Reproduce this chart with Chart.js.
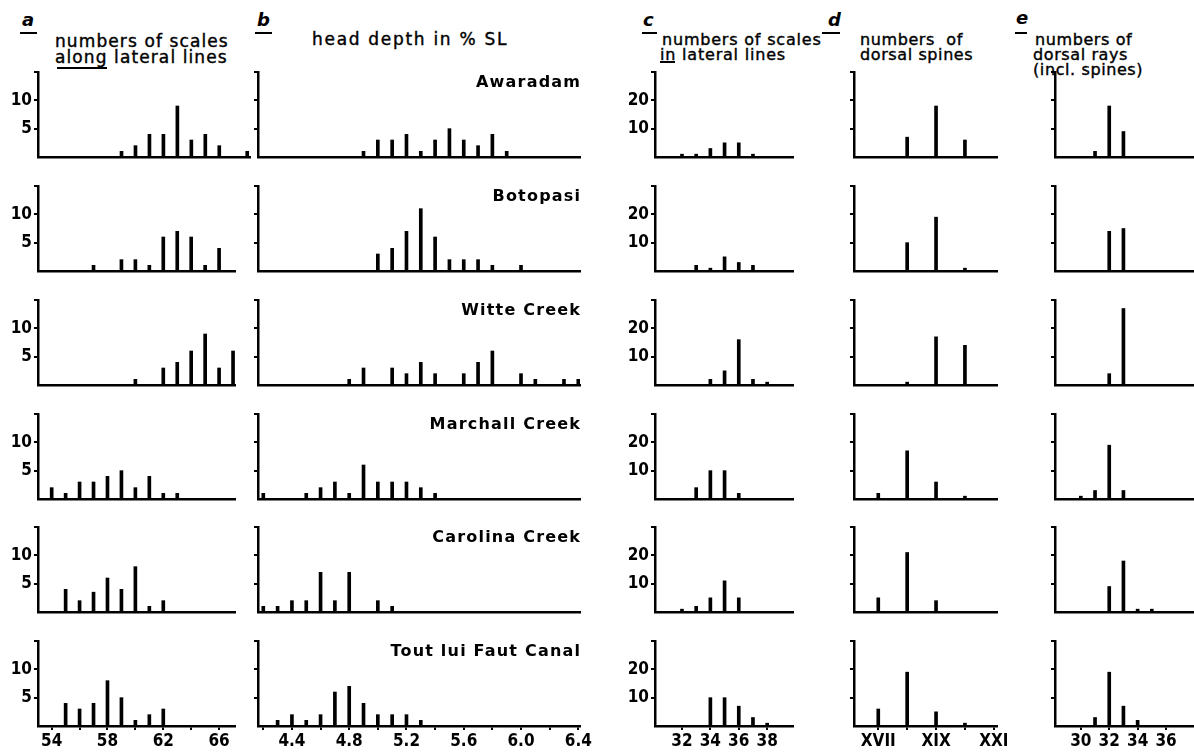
<!DOCTYPE html>
<html>
<head>
<meta charset="utf-8">
<script src="https://cdn.jsdelivr.net/npm/chart.js@4.4.1/dist/chart.umd.min.js"></script>
<style>
  body { margin: 0; background: #fff; width: 1194px; height: 752px; overflow: hidden; position: relative; font-family: 'DejaVu Sans', sans-serif; color: #000; }
  canvas { position: absolute; }
  .t { position: absolute; white-space: nowrap; font-size: 16px; line-height: 16px; -webkit-text-stroke: 0.4px #000; }
  .big { font-size: 17px; line-height: 17px; }
  .tag { position: absolute; font-size: 18px; line-height: 18px; font-weight: bold; font-style: italic; }
  .ul { position: absolute; height: 2px; background: #000; }
  .name { position: absolute; white-space: nowrap; font-size: 16px; line-height: 16px; font-weight: bold; letter-spacing: 1.2px; text-align: right; }
</style>
</head>
<body>

<!-- column headings -->
<div class="tag" style="left:22px;top:11px">a</div><div class="ul" style="left:20px;top:32px;width:17px"></div>
<div class="t big" style="left:55px;top:33px;letter-spacing:1.1px">numbers of scales</div>
<div class="t big" style="left:55px;top:49px;letter-spacing:1.1px">along lateral lines</div>
<div class="ul" style="left:57px;top:67px;width:50px"></div>

<div class="tag" style="left:257px;top:11px">b</div><div class="ul" style="left:255px;top:32px;width:17px"></div>
<div class="t big" style="left:312px;top:31px;letter-spacing:1.7px">head depth in % SL</div>

<div class="tag" style="left:643px;top:11px">c</div><div class="ul" style="left:642px;top:32px;width:15px"></div>
<div class="t" style="left:662px;top:32px;letter-spacing:0.8px">numbers of scales</div>
<div class="t" style="left:660px;top:47px;letter-spacing:0.8px">in lateral lines</div>
<div class="ul" style="left:660px;top:61px;width:15px"></div>

<div class="tag" style="left:828px;top:11px">d</div><div class="ul" style="left:822px;top:32px;width:18px"></div>
<div class="t" style="left:860px;top:32px;letter-spacing:0.6px">numbers&nbsp;&nbsp;of</div>
<div class="t" style="left:860px;top:47px;letter-spacing:0.6px">dorsal spines</div>

<div class="tag" style="left:1016px;top:9px">e</div><div class="ul" style="left:1015px;top:32px;width:12px"></div>
<div class="t" style="left:1035px;top:32px;letter-spacing:0.6px">numbers of</div>
<div class="t" style="left:1033px;top:47px;letter-spacing:0.6px">dorsal rays</div>
<div class="t" style="left:1033px;top:62px;letter-spacing:0.6px">(incl. spines)</div>

<script>
Chart.defaults.font.family = "'DejaVu Sans', sans-serif";
Chart.defaults.color = '#000';

const stations = ['Awaradam', 'Botopasi', 'Witte Creek', 'Marchall Creek', 'Carolina Creek', 'Tout lui Faut Canal'];

// a: numbers of scales along lateral lines
const scalesAlongCats = [54, 55, 56, 57, 58, 59, 60, 61, 62, 63, 64, 65, 66, 67, 68];
const scalesAlongCounts = [
  [0, 0, 0, 0, 0, 1, 2, 4, 4, 9, 3, 4, 2, 0, 1],
  [0, 0, 0, 1, 0, 2, 2, 1, 6, 7, 6, 1, 4, 0, 0],
  [0, 0, 0, 0, 0, 0, 1, 0, 3, 4, 6, 9, 3, 6, 0],
  [2, 1, 3, 3, 4, 5, 2, 4, 1, 1, 0, 0, 0, 0, 0],
  [0, 4, 2, 3.5, 6, 4, 8, 1, 2, 0, 0, 0, 0, 0, 0],
  [0, 4, 3, 4, 8, 5, 1, 2, 3, 0, 0, 0, 0, 0, 0],
];
const scalesAlongTicks = [54, 56, 58, 60, 62, 64, 66];
const scalesAlongLabels = [54, 58, 62, 66];

// b: head depth in % SL
const headDepthCats = [4.2, 4.3, 4.4, 4.5, 4.6, 4.7, 4.8, 4.9, 5.0, 5.1, 5.2, 5.3, 5.4, 5.5, 5.6, 5.7, 5.8, 5.9, 6.0, 6.1, 6.2, 6.3, 6.4];
const headDepthCounts = [
  [0, 0, 0, 0, 0, 0, 0, 1, 3, 3, 4, 1, 3, 5, 3, 2, 4, 1, 0, 0, 0, 0, 0],
  [0, 0, 0, 0, 0, 0, 0, 0, 3, 4, 7, 11, 6, 2, 2, 2, 1, 0, 1, 0, 0, 0, 0],
  [0, 0, 0, 0, 0, 0, 1, 3, 0, 3, 2, 4, 2, 0, 2, 4, 6, 0, 2, 1, 0, 1, 1],
  [1, 0, 0, 1, 2, 3, 1, 6, 3, 3, 3, 2, 1, 0, 0, 0, 0, 0, 0, 0, 0, 0, 0],
  [1, 1, 2, 2, 7, 2, 7, 0, 2, 1, 0, 0, 0, 0, 0, 0, 0, 0, 0, 0, 0, 0, 0],
  [0, 1, 2, 1, 2, 6, 7, 4, 2, 2, 2, 1, 0, 0, 0, 0, 0, 0, 0, 0, 0, 0, 0],
];
const headDepthTicks = [4.2, 4.4, 4.6, 4.8, 5.0, 5.2, 5.4, 5.6, 5.8, 6.0, 6.2, 6.4];
const headDepthLabels = [4.4, 4.8, 5.2, 5.6, 6.0, 6.4];

// c: numbers of scales in lateral lines
const scalesInCats = [32, 33, 34, 35, 36, 37, 38];
const scalesInCounts = [
  [1, 1, 3, 5, 5, 1, 0],
  [0, 2, 1, 5, 3, 2, 0],
  [0, 0, 2, 5, 16, 2, 1],
  [0, 4, 10, 10, 2, 0, 0],
  [1, 2, 5, 11, 5, 0, 0],
  [0, 0, 10, 10, 7, 3, 1],
];
const scalesInTicks = [32, 34, 36, 38];
const scalesInLabels = [32, 34, 36, 38];

// d: numbers of dorsal spines
const dorsalSpineCats = [17, 18, 19, 20];
const dorsalSpineCounts = [
  [0, 7, 18, 6],
  [0, 10, 19, 1],
  [0, 1, 17, 14],
  [2, 17, 6, 1],
  [5, 21, 4, 0],
  [6, 19, 5, 1],
];
const dorsalSpineTicks = [17, 18, 19, 20, 21];
const romanLabels = { 17: 'XVII', 19: 'XIX', 21: 'XXI' };

// e: numbers of dorsal rays (incl. spines)
const dorsalRayCats = [30, 31, 32, 33, 34, 35];
const dorsalRayCounts = [
  [0, 2, 18, 9, 0, 0],
  [0, 0, 14, 15, 0, 0],
  [0, 0, 4, 27, 0, 0],
  [1, 3, 19, 3, 0, 0],
  [0, 0, 9, 18, 1, 1],
  [0, 3, 19, 7, 2, 0],
];
const dorsalRayTicks = [30, 32, 34, 36];
const dorsalRayLabels = [30, 32, 34, 36];

// y axes
const smallCountTicks = [5, 10, 15];
const smallCountLabels = [5, 10];
const largeCountTicks = [10, 20, 30];
const largeCountLabels = [10, 20];

// layout of the grid of panels
const rowBase = [157, 271, 385, 499, 612, 726];
const plotHeight = 85;

const has = (list, v) => list.some(l => Math.abs(l - v) < 1e-6);
const noLabel = () => '';

const columns = [
  { cats: scalesAlongCats, counts: scalesAlongCounts, left: 38, right: 235, min: 53.02, max: 67.14,
    yMax: 15, yTicks: smallCountTicks, yLabel: v => has(smallCountLabels, v) ? String(v) : '',
    xTicks: scalesAlongTicks, xLabel: v => has(scalesAlongLabels, v) ? String(v) : '' },
  { cats: headDepthCats, counts: headDepthCounts, left: 258, right: 580, min: 4.163, max: 6.412,
    yMax: 15, yTicks: smallCountTicks, yLabel: noLabel,
    xTicks: headDepthTicks, xLabel: v => has(headDepthLabels, v) ? v.toFixed(1) : '' },
  { cats: scalesInCats, counts: scalesInCounts, left: 655, right: 793, min: 30.1, max: 39.82,
    yMax: 30, yTicks: largeCountTicks, yLabel: v => has(largeCountLabels, v) ? String(v) : '',
    xTicks: scalesInTicks, xLabel: v => has(scalesInLabels, v) ? String(v) : '' },
  { cats: dorsalSpineCats, counts: dorsalSpineCounts, left: 854, right: 997, min: 16.16, max: 21.11,
    yMax: 30, yTicks: largeCountTicks, yLabel: noLabel,
    xTicks: dorsalSpineTicks, xLabel: v => romanLabels[Math.round(v)] || '' },
  { cats: dorsalRayCats, counts: dorsalRayCounts, left: 1055, right: 1193, min: 28.18, max: 37.9,
    yMax: 30, yTicks: largeCountTicks, yLabel: noLabel,
    xTicks: dorsalRayTicks, xLabel: v => has(dorsalRayLabels, v) ? String(v) : '' },
];

// narrow bold digits like the original lettering
const tickFont = { family: "'Liberation Sans Narrow', 'DejaVu Sans Condensed', 'DejaVu Sans', sans-serif", size: 17, weight: 'bold' };

function drawPanel(col, row) {
  const c = columns[col];
  const isBottom = row === stations.length - 1;
  // first panel of column a has a longer axis
  const right = (col === 0 && row === 0) ? 250 : c.right;
  const max = (col === 0 && row === 0) ? 68.2 : c.max;
  const padL = 40, padT = 6, padR = isBottom ? 18 : 4, padB = isBottom ? 26 : 6;
  const top = rowBase[row] - plotHeight;

  const canvas = document.createElement('canvas');
  canvas.width = right - c.left + padL + padR;
  canvas.height = plotHeight + padT + padB;
  canvas.style.left = (c.left - padL) + 'px';
  canvas.style.top = (top - padT) + 'px';
  document.body.appendChild(canvas);

  new Chart(canvas, {
    type: 'bar',
    data: {
      datasets: [{
        data: c.cats.map((x, i) => ({ x: x, y: c.counts[row][i] })),
        backgroundColor: '#000',
        borderWidth: 0,
        barThickness: 3,
      }],
    },
    options: {
      responsive: false,
      animation: false,
      events: [],
      layout: { padding: { top: padT, right: padR, left: 0, bottom: 0 } },
      plugins: { legend: { display: false }, tooltip: { enabled: false } },
      scales: {
        x: {
          type: 'linear', min: c.min, max: max, offset: false,
          afterBuildTicks: s => { s.ticks = c.xTicks.map(v => ({ value: v })); },
          afterFit: s => { s.height = padB; s.paddingLeft = 0; s.paddingRight = 0; },
          grid: { drawOnChartArea: false, drawTicks: isBottom, tickLength: 4, color: '#000', lineWidth: 2, offset: false },
          border: { color: '#000', width: 2.5 },
          ticks: { display: isBottom, autoSkip: false, maxRotation: 0, padding: 1, font: tickFont, callback: v => c.xLabel(v) },
        },
        y: {
          min: 0, max: c.yMax,
          afterBuildTicks: s => { s.ticks = c.yTicks.map(v => ({ value: v })); },
          afterFit: s => { s.width = padL; s.paddingTop = 0; s.paddingBottom = 0; },
          grid: { drawOnChartArea: false, drawTicks: true, tickLength: 4, color: '#000', lineWidth: 2 },
          border: { color: '#000', width: 2.5 },
          ticks: { autoSkip: false, padding: 2, font: tickFont, callback: v => c.yLabel(v) },
        },
      },
    },
  });
}

columns.forEach((c, col) => stations.forEach((s, row) => drawPanel(col, row)));

// station names, right aligned over column b
stations.forEach((name, row) => {
  const d = document.createElement('div');
  d.className = 'name';
  d.textContent = name;
  d.style.right = (1194 - 580 - 1.2) + 'px';
  d.style.top = (rowBase[row] - plotHeight + 15 - 13.5) + 'px';
  document.body.appendChild(d);
});
</script>
</body>
</html>
